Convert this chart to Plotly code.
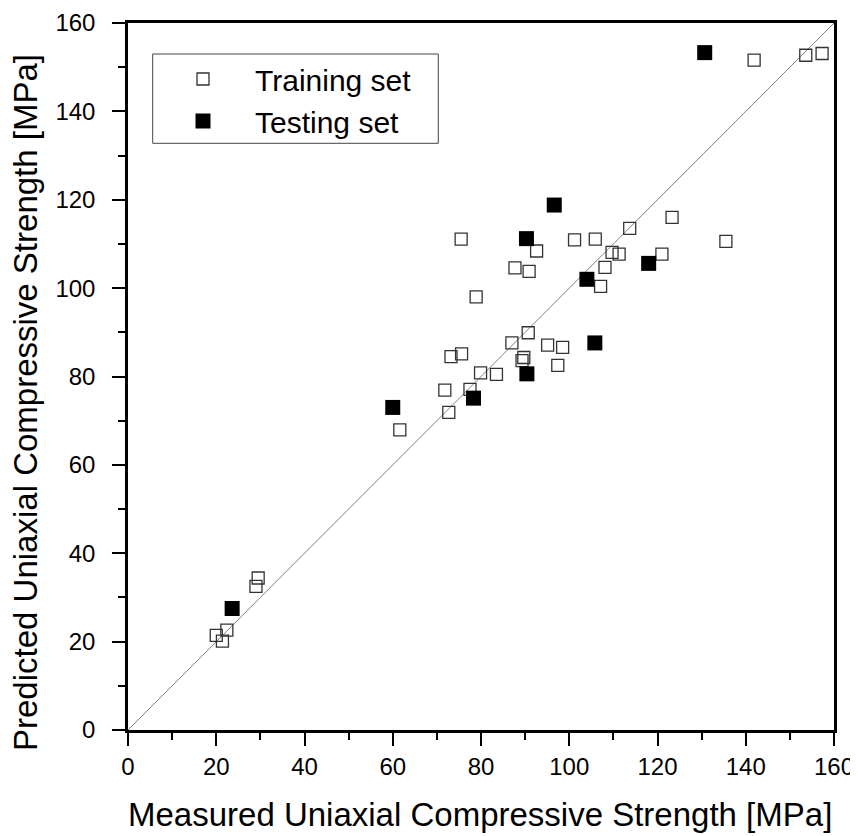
import plotly.graph_objects as go

# Measured vs predicted UCS [MPa]
train_measured = [75.5, 92.6, 101.2, 105.9, 113.7, 123.3, 109.7, 111.3, 121.0, 87.7,
                  90.9, 108.1, 107.1, 78.9, 90.7, 87.0, 95.1, 98.5, 73.2, 75.6,
                  89.7, 89.3, 97.4, 79.9, 83.5, 71.8, 77.5, 72.7, 61.6, 29.5,
                  29.0, 22.4, 20.0, 21.4, 141.9, 153.6, 157.3, 135.5]
train_predicted = [111.1, 108.4, 110.9, 111.1, 113.5, 116.0, 108.1, 107.7, 107.7, 104.6,
                   103.8, 104.7, 100.4, 98.0, 89.9, 87.6, 87.1, 86.6, 84.5, 85.1,
                   84.3, 83.6, 82.5, 80.8, 80.5, 76.9, 77.1, 71.9, 67.9, 34.4,
                   32.5, 22.6, 21.4, 20.1, 151.6, 152.7, 153.1, 110.6]

test_measured = [96.6, 90.3, 118.0, 104.0, 105.8, 90.4, 78.3, 60.0, 23.6, 130.7]
test_predicted = [118.8, 111.2, 105.6, 102.0, 87.6, 80.6, 75.1, 73.0, 27.5, 153.3]

line_x = [0, 160]
line_y = [0, 160]

axis_range = [0, 160]
tick_vals = [0, 20, 40, 60, 80, 100, 120, 140, 160]
tick_text = [str(v) for v in tick_vals]

FONT = "Liberation Sans, Arial, sans-serif"

fig = go.Figure()
fig.add_trace(go.Scatter(x=line_x, y=line_y, mode="lines",
                         line=dict(color="#808080", width=1), showlegend=False,
                         hoverinfo="skip"))
fig.add_trace(go.Scatter(x=train_measured, y=train_predicted, mode="markers",
                         name="Training set",
                         marker=dict(symbol="square-open", size=12,
                                     color="#333333", line=dict(width=1.3, color="#333333"))))
fig.add_trace(go.Scatter(x=test_measured, y=test_predicted, mode="markers",
                         name="Testing set",
                         marker=dict(symbol="square", size=15, color="black",
                                     line=dict(width=0))))

axis_common = dict(
    range=axis_range, tickvals=tick_vals, ticktext=tick_text,
    showgrid=False, zeroline=False, showline=True, linecolor="black",
    linewidth=2.5, mirror=True, ticks="outside", ticklen=13, tickwidth=2,
    tickcolor="black", tickfont=dict(family=FONT, size=24, color="black"),
    minor=dict(dtick=10, ticks="outside", ticklen=7, tickwidth=2, tickcolor="black"),
    automargin=False,
)

fig.update_xaxes(**axis_common, ticklabelstandoff=0)
fig.update_yaxes(**axis_common, ticklabelstandoff=12)

# the page body adds an 8 px offset; size the figure to fill the rest of the window
OFF = 8
W, H = 858 - OFF, 836 - OFF
ml, mr, mt, mb = 120, 24, 15, 106
pw, ph = W - ml - mr, H - mt - mb

def px(xpage):
    return (xpage - OFF - ml) / pw

def py(ypage):
    return (H - mb - (ypage - OFF)) / ph

fig.add_shape(type="rect", xref="paper", yref="paper",
              x0=px(152.7), x1=px(438.3), y0=py(143.3), y1=py(54),
              line=dict(color="#444444", width=1), fillcolor="white", layer="below")

fig.add_annotation(text="Measured Uniaxial Compressive Strength [MPa]",
                   xref="paper", yref="paper", x=px(480), y=py(814),
                   xanchor="center", yanchor="middle", showarrow=False,
                   font=dict(family=FONT, size=33, color="black"))
fig.add_annotation(text="Predicted Uniaxial Compressive Strength [MPa]",
                   xref="paper", yref="paper", x=px(25), y=py(403),
                   xanchor="center", yanchor="middle", showarrow=False, textangle=-90,
                   font=dict(family=FONT, size=33, color="black"))

fig.update_layout(
    width=W, height=H,
    margin=dict(l=ml, r=mr, t=mt, b=mb, pad=0, autoexpand=False),
    paper_bgcolor="white", plot_bgcolor="white",
    showlegend=True,
    legend=dict(x=px(151), y=py(53), xanchor="left", yanchor="top",
                bgcolor="rgba(0,0,0,0)", borderwidth=0, itemwidth=94,
                font=dict(family=FONT, size=30, color="black")),
)

fig.write_html("out.html")
